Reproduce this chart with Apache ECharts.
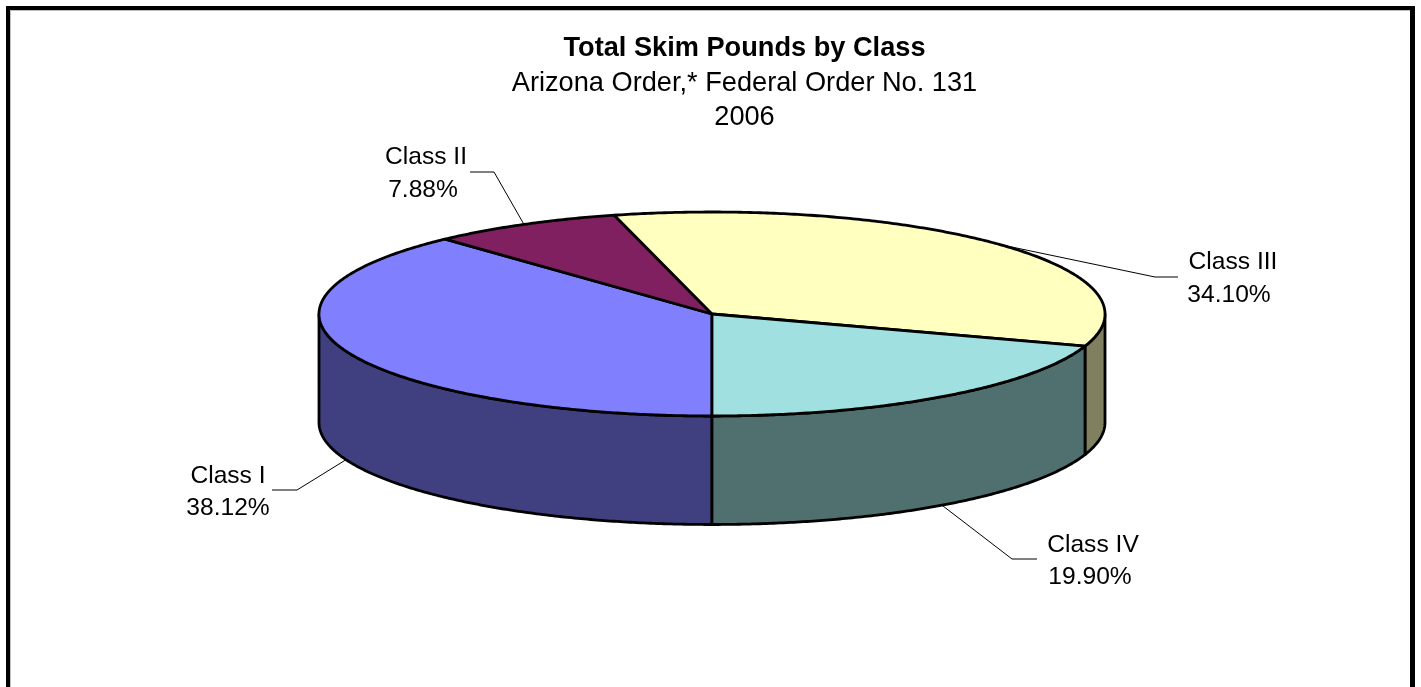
<!DOCTYPE html>
<html><head><meta charset="utf-8">
<style>html,body{margin:0;padding:0;background:#fff}#c{width:1421px;height:687px}</style>
<script src="https://cdn.jsdelivr.net/npm/echarts@6/dist/echarts.min.js"></script>
</head><body><div id="c"></div>
<script>
// data
var categories = ['Class I', 'Class II', 'Class III', 'Class IV'];
var shares = [38.12, 7.88, 34.10, 19.90];
var titleText = 'Total Skim Pounds by Class';
var subtitleText = 'Arizona Order,* Federal Order No. 131\n2006';

// styles and layout
var topColors = ['#8080FF', '#802060', '#FFFFC0', '#A0E0E0'];
var sideColors = ['#404080', '#401030', '#808060', '#507070'];
var cx = 712, cy = 314, rx = 393, ry = 102, depth = 108.5, startDeg = 180;
var FONT = '"Liberation Sans", Arial, sans-serif';
var FS = 24.6, TFS = 27.2;
var labelLayout = [
  { elbow: [297, 490], end: [272, 490], name: [228, 476], pct: [228, 508] },
  { elbow: [494, 172], end: [470, 172], name: [426, 157], pct: [423, 190] },
  { elbow: [1155, 277], end: [1178, 277], name: [1233, 262], pct: [1229, 295] },
  { elbow: [1012, 559], end: [1037, 559], name: [1093, 545], pct: [1090, 577] }
];

function range(i) {
  var total = shares.reduce(function (a, b) { return a + b; }, 0), acc = 0;
  for (var k = 0; k < i; k++) acc += shares[k];
  return [startDeg + acc / total * 360, startDeg + (acc + shares[i]) / total * 360];
}
function pt(deg, dy) {
  var t = deg * Math.PI / 180;
  return [cx + rx * Math.sin(t), cy - ry * Math.cos(t) + (dy || 0)];
}
function arc(a, b, dy) {
  var n = Math.max(2, Math.ceil(Math.abs(b - a))*2), out = [];
  for (var j = 0; j <= n; j++) out.push(pt(a + (b - a) * j / n, dy));
  return out;
}
var rowData = categories.map(function (c, i) { return [i, shares[i]]; });

function renderSide(params, api) {
  var i = api.value(0), r = range(i), windows = [[90, 270], [450, 630]], kids = [];
  windows.forEach(function (w) {
    var a = Math.max(r[0], w[0]), b = Math.min(r[1], w[1]);
    if (b <= a) return;
    var pts = arc(a, b, 0).concat(arc(b, a, depth));
    kids.push({ type: 'polygon', shape: { points: pts },
      style: { fill: sideColors[i], stroke: '#000', lineWidth: 2.8, lineJoin: 'round' } });
  });
  return { type: 'group', children: kids };
}
function renderTop(params, api) {
  var i = api.value(0), r = range(i);
  var pts = [[cx, cy]].concat(arc(r[0], r[1], 0));
  return { type: 'polygon', shape: { points: pts },
    style: { fill: topColors[i], stroke: '#000', lineWidth: 2.8, lineJoin: 'round' } };
}
function renderLabel(params, api) {
  var i = api.value(0), r = range(i), mid = (r[0] + r[1]) / 2, L = labelLayout[i];
  var m = ((mid % 360) + 360) % 360;
  var anchor = pt(mid, (m > 90 && m < 270) ? depth : 0);
  function txt(s, p) {
    return { type: 'text', style: { text: s, x: p[0], y: p[1], align: 'center', verticalAlign: 'middle',
      fill: '#000', font: FS + 'px ' + FONT } };
  }
  return { type: 'group', children: [
    { type: 'polyline', shape: { points: [anchor, L.elbow, L.end] }, style: { fill: null, stroke: '#000', lineWidth: 1 } },
    txt(categories[i], L.name),
    txt(api.value(1).toFixed(2) + '%', L.pct)
  ] };
}

var chart = echarts.init(document.getElementById('c'), null, { renderer: 'canvas' });
function bar(x, y, w, h, c) { return { type: 'rect', shape: { x: x, y: y, width: w, height: h }, style: { fill: c }, silent: true }; }
chart.setOption({
  backgroundColor: '#fff',
  animation: false,
  tooltip: { show: false },
  title: {
    text: titleText, subtext: subtitleText, left: 739.5, top: 28, textAlign: 'center', itemGap: 2,
    textStyle: { fontFamily: FONT, fontSize: TFS, fontWeight: 'bold', color: '#000', lineHeight: 32 },
    subtextStyle: { fontFamily: FONT, fontSize: TFS, color: '#000', lineHeight: 34 }
  },
  graphic: [
    bar(10, 10, 1400, 1, '#c0c0c0'), bar(10, 10, 1, 677, '#c0c0c0'),
    bar(6, 6, 1409, 4, '#000'), bar(6, 6, 4, 681, '#000'), bar(1410, 6, 5, 681, '#000')
  ],
  series: [
    { type: 'custom', name: 'Side', coordinateSystem: 'none', renderItem: renderSide, data: rowData, z: 2, silent: true },
    { type: 'custom', name: 'Total Skim Pounds', coordinateSystem: 'none', renderItem: renderTop, data: rowData, z: 3, silent: true },
    { type: 'custom', name: 'Labels', coordinateSystem: 'none', renderItem: renderLabel, data: rowData, z: 1, silent: true }
  ]
});
</script></body></html>
